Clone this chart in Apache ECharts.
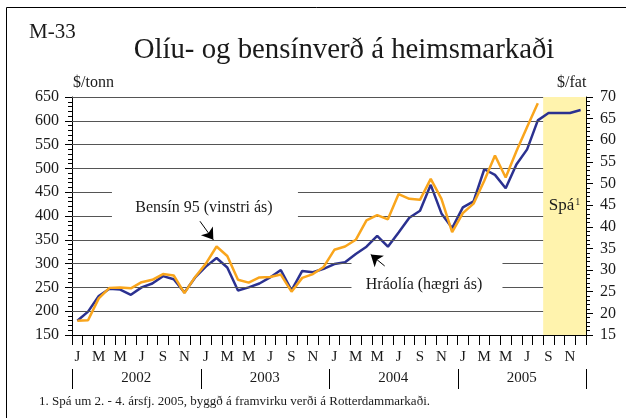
<!DOCTYPE html>
<html>
<head>
<meta charset="utf-8">
<script src="https://cdn.jsdelivr.net/npm/echarts@6/dist/echarts.min.js"></script>
<style>
    html, body { margin: 0; padding: 0; background: #fff; }
    #chart { width: 626px; height: 418px; }
</style>
</head>
<body>
<div id="chart"></div>
<script>
// mánuðir jan 2002 - des 2005
var monthLetters = ['J', 'F', 'M', 'A', 'M', 'J', 'J', 'A', 'S', 'O', 'N', 'D'];
var years = ['2002', '2003', '2004', '2005'];
// Bensín 95, $/tonn (vinstri ás), jan 2002 - ágú 2005
var bensin = [180, 181, 227, 249, 250, 248, 261, 266, 278, 275, 238, 272,
    300, 336, 316, 266, 260, 271, 272, 277, 241, 270, 278, 293,
    329, 336, 350, 391, 402, 393, 446, 436, 434, 478, 436, 366,
    406, 426, 474, 527, 481, 536, 587, 637];
// Hráolía, $/fat (hægri ás), sep-des 2005 er spá
var hraolia = [18.3, 20.4, 24.0, 25.7, 25.5, 24.3, 26.0, 26.9, 28.6, 27.9, 24.8, 28.3,
    30.8, 32.8, 30.6, 25.3, 26.0, 26.9, 28.3, 30.0, 25.3, 29.8, 29.5, 30.3,
    31.4, 31.8, 33.7, 35.4, 37.9, 35.4, 38.7, 42.1, 43.7, 49.7, 43.1, 39.7,
    44.5, 45.9, 53.3, 52.0, 48.9, 54.4, 57.9, 64.6, 66.3, 66.3, 66.3, 67.0];

var months = [];
for (var y = 0; y < years.length; y++) {
    for (var m = 0; m < 12; m++) months.push(monthLetters[m]);
}

var serif = 'Liberation Serif';
var txt = '#1a1a1a';

// gridlínur, sumar með bili fyrir textann
var gridSegs = [
    [650, 0, 44], [600, 0, 44], [550, 0, 44], [500, 0, 44],
    [450, 0, 3.73], [450, 21.1, 44],
    [400, 0, 3.73], [400, 21.1, 44],
    [350, 0, 44],
    [300, 0, 26.1], [300, 40.2, 44],
    [250, 0, 26.1], [250, 40.2, 44],
    [200, 0, 44]
];
var gridLines = gridSegs.map(function (s) {
    return [{ coord: [s[1], s[0]] }, { coord: [s[2], s[0]] }];
});
// örvar að línunum
var arrows = [
    [[11.95, 389], [13.2, 350]],
    [[29.2, 295], [27.9, 319]]
];
var arrowLines = arrows.map(function (a) {
    return [{ coord: a[0], symbol: 'none' }, { coord: a[1], symbol: 'arrow', symbolSize: 11 }];
});

var tickStyle = { color: '#000', width: 1 };

let chart = echarts.init(document.getElementById('chart'));
option = {
    animation: false,
    backgroundColor: '#fff',
    grid: { left: 72, right: 40, top: 97, bottom: 83 },
    graphic: [
        { type: 'rect', silent: true, shape: { x: 6.5, y: 7.5, width: 700, height: 500 },
          style: { fill: 'none', stroke: '#000', lineWidth: 1 } },
        { type: 'text', x: 29, y: 32, style: { text: 'M-33', font: '21px ' + serif, fill: txt, verticalAlign: 'middle' } },
        { type: 'text', x: 344, y: 50, style: { text: 'Olíu- og bensínverð á heimsmarkaði', font: '28.8px ' + serif, fill: txt, align: 'center', verticalAlign: 'middle' } },
        { type: 'text', x: 73, y: 83, style: { text: '$/tonn', font: '16px ' + serif, fill: txt, verticalAlign: 'middle' } },
        { type: 'text', x: 557, y: 83, style: { text: '$/fat', font: '16px ' + serif, fill: txt, verticalAlign: 'middle' } },
        { type: 'text', x: 204, y: 208, style: { text: 'Bensín 95 (vinstri ás)', font: '16px ' + serif, fill: txt, align: 'center', verticalAlign: 'middle' } },
        { type: 'text', x: 424, y: 285, style: { text: 'Hráolía (hægri ás)', font: '16px ' + serif, fill: txt, align: 'center', verticalAlign: 'middle' } },
        { type: 'text', x: 39, y: 402, style: { text: '1. Spá um 2. - 4. ársfj. 2005, byggð á framvirku verði á Rotterdammarkaði.', font: '13px ' + serif, fill: txt, verticalAlign: 'middle' } }
    ],
    xAxis: [
        {
            // mánuðir, strik á hverjum mánaðarskilum
            type: 'category',
            data: months,
            position: 'bottom',
            boundaryGap: true,
            axisLine: { show: true, lineStyle: { color: '#000', width: 1 } },
            axisTick: { show: true, interval: 0, length: 10, lineStyle: tickStyle },
            axisLabel: { interval: 1, margin: 15, fontSize: 15, fontFamily: serif, color: txt },
            splitLine: { show: false }
        },
        // hjálparás (mánuðir 0-48) fyrir gridlínur, spásvæði og ártöl
        { type: 'value', min: 0, max: 48, position: 'top', show: false }
    ],
    yAxis: [
        {
            type: 'value',
            position: 'left',
            min: 150, max: 650, interval: 50,
            axisLine: { show: true, onZero: false, lineStyle: { color: '#000', width: 1 } },
            axisTick: { show: true, length: 7, lineStyle: tickStyle },
            minorTick: { show: true, splitNumber: 5, length: 4, lineStyle: tickStyle },
            axisLabel: { margin: 13, fontSize: 16, fontFamily: serif, color: txt },
            splitLine: { show: false }
        },
        {
            type: 'value',
            position: 'right',
            min: 15, max: 70, interval: 5,
            axisLine: { show: true, onZero: false, lineStyle: { color: '#000', width: 1 } },
            axisTick: { show: true, length: 7, lineStyle: tickStyle },
            minorTick: { show: true, splitNumber: 5, length: 4, lineStyle: tickStyle },
            axisLabel: { margin: 14, fontSize: 16, fontFamily: serif, color: txt },
            splitLine: { show: false }
        }
    ],
    series: [
        {
            name: 'grid',
            type: 'line',
            xAxisIndex: 1, yAxisIndex: 0,
            data: [],
            silent: true,
            z: 1,
            markLine: {
                silent: true,
                symbol: 'none',
                label: { show: false },
                lineStyle: { color: '#555', width: 1, type: 'solid' },
                data: gridLines
            }
        },
        {
            name: 'spa',
            type: 'line',
            xAxisIndex: 1, yAxisIndex: 0,
            data: [],
            silent: true,
            z: 2,
            markArea: {
                silent: true,
                itemStyle: { color: '#fff3ad' },
                label: {
                    show: true,
                    position: 'inside',
                    offset: [0, -10],
                    formatter: '{a|Spá}{b|1}',
                    rich: {
                        a: { fontSize: 17, fontFamily: serif, color: txt },
                        b: { fontSize: 10, fontFamily: serif, color: txt, verticalAlign: 'top', padding: [0, 0, 8, 1] }
                    }
                },
                data: [[{ coord: [44, 150] }, { coord: [48, 650] }]]
            }
        },
        {
            name: 'orvar',
            type: 'line',
            xAxisIndex: 1, yAxisIndex: 0,
            data: [],
            silent: true,
            z: 6,
            markLine: {
                silent: true,
                symbol: ['none', 'arrow'],
                symbolSize: 11,
                label: { show: false },
                lineStyle: { color: '#000', width: 1, type: 'solid' },
                data: arrowLines
            }
        },
        {
            name: 'Hráolía',
            type: 'line',
            xAxisIndex: 0, yAxisIndex: 1,
            data: hraolia,
            symbol: 'none',
            z: 4,
            lineStyle: { color: '#2b3190', width: 2.5 },
            itemStyle: { color: '#2b3190' }
        },
        {
            name: 'Bensín 95',
            type: 'line',
            xAxisIndex: 0, yAxisIndex: 0,
            data: bensin,
            symbol: 'none',
            z: 5,
            lineStyle: { color: '#f9a51c', width: 2.5 },
            itemStyle: { color: '#f9a51c' }
        }
    ]
};
chart.setOption(option);

// ártöl og skil milli ára, staðsett með kvarða hjálparássins
var y0 = chart.convertToPixel({ yAxisIndex: 0 }, 150);
var yearMarks = [];
for (let k = 0; k <= years.length; k++) {
    let x = Math.round(chart.convertToPixel({ xAxisIndex: 1 }, k * 12)) + 0.5;
    yearMarks.push({
        type: 'line', silent: true, z: 50,
        shape: { x1: x, y1: y0 + 34, x2: x, y2: y0 + 54 },
        style: { stroke: '#000', lineWidth: 1 }
    });
    if (k < years.length) {
        yearMarks.push({
            type: 'text', silent: true, z: 50,
            x: chart.convertToPixel({ xAxisIndex: 1 }, k * 12 + 6), y: y0 + 43,
            style: { text: years[k], font: '15px ' + serif, fill: txt, align: 'center', verticalAlign: 'middle' }
        });
    }
}
chart.setOption({ graphic: option.graphic.concat(yearMarks) });
</script>
</body>
</html>
